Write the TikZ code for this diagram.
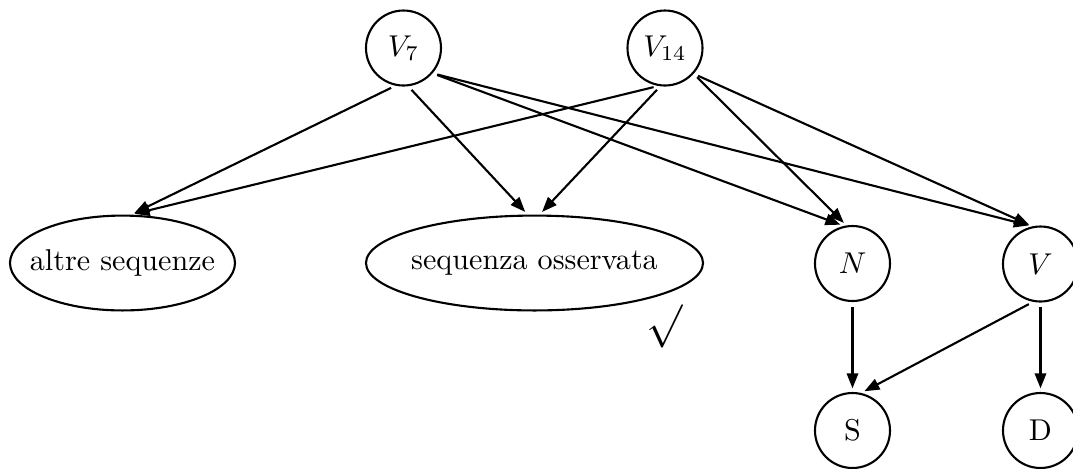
\documentclass[tikz,border=0pt]{standalone}
\usetikzlibrary{shapes.geometric,arrows.meta}
\begin{document}
\begin{tikzpicture}[x=0.332pt,y=-0.332pt,
  every node/.style={line width=0.7pt},
  cnode/.style={circle,draw,inner sep=0pt,minimum size=24.9pt},
  enode/.style={ellipse,draw,inner xsep=-20pt,inner ysep=0pt,minimum height=31.5pt},
  edge/.style={line width=0.7pt,-{Triangle[length=5pt,width=3.8pt]},shorten <=1.6pt,shorten >=1.2pt}]
\useasboundingbox (0,0) rectangle (1073,468);
\node[cnode] (V7) at (403.5,48) {$V_7$};
\node[cnode] (V14) at (665,48) {$V_{14}$};
\node[enode,minimum width=74.7pt] (alt) at (122.5,263) {altre sequenze};
\node[enode,minimum width=111.9pt] (seq) at (534.5,263) {sequenza osservata};
\node[cnode] (N) at (852.5,263.5) {$N$};
\node[cnode] (V) at (1040.5,264) {$V$};
\node[cnode] (S) at (852.5,430.5) {S};
\node[cnode] (D) at (1040.5,430.5) {D};
\node[inner sep=0pt] (chk) at (665,326) {\Large$\surd$};
\draw[edge] (V7.258) -- (alt.80);
\draw[edge] (V14.260) -- (alt.80);
\draw[edge] (V7.277) -- (seq.98);
\draw[edge] (V14.263) -- (seq.84);
\draw[edge] (V7.-41) -- (N.103);
\draw[edge] (V14.-42) -- (N.99);
\draw[edge] (V7.-41) -- (V.102);
\draw[edge] (V14.-42) -- (V.102);
\draw[edge] (N.south) -- (S.north);
\draw[edge] (V.259) -- (S.77);
\draw[edge] (V.south) -- (D.north);
\end{tikzpicture}
\end{document}
